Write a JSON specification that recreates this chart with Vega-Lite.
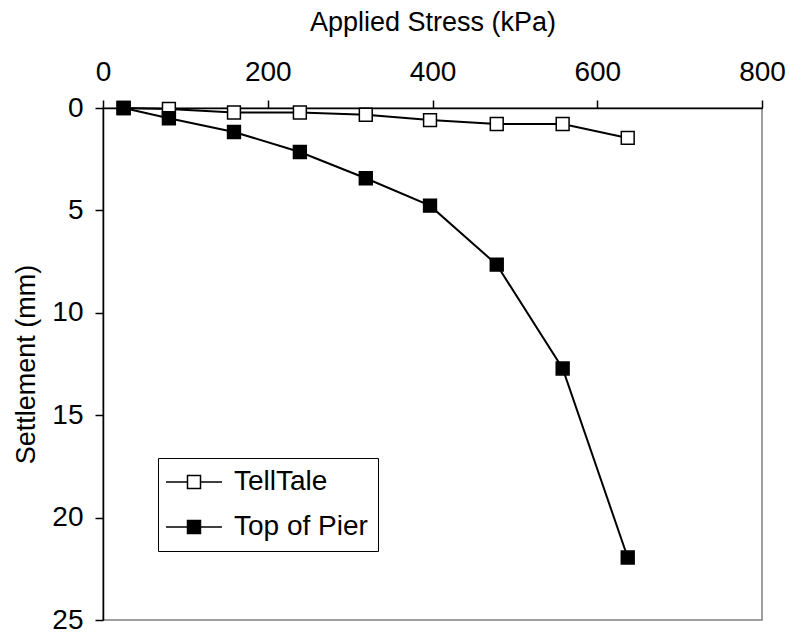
{
  "$schema": "https://vega.github.io/schema/vega-lite/v6.json",
  "width": 659,
  "height": 512,
  "autosize": {"type": "none"},
  "padding": {"left": 103, "top": 108, "right": 27, "bottom": 15},
  "background": "white",
  "config": {
    "font": "Liberation Sans",
    "view": {"stroke": "#808080", "strokeWidth": 1.5},
    "axis": {
      "domainColor": "black",
      "domainWidth": 1.5,
      "tickColor": "black",
      "tickWidth": 1.5,
      "tickSize": 8,
      "grid": false,
      "labelColor": "black",
      "titleColor": "black",
      "labelFontSize": 28,
      "titleFontSize": 27,
      "titleFontWeight": "normal",
      "labelFont": "Liberation Sans",
      "titleFont": "Liberation Sans"
    }
  },
  "data": {
    "values": [
      {"stress": 25, "settlement": 0, "series": "TellTale"},
      {"stress": 80, "settlement": 0.05, "series": "TellTale"},
      {"stress": 159, "settlement": 0.22, "series": "TellTale"},
      {"stress": 239, "settlement": 0.22, "series": "TellTale"},
      {"stress": 319, "settlement": 0.33, "series": "TellTale"},
      {"stress": 397, "settlement": 0.59, "series": "TellTale"},
      {"stress": 478, "settlement": 0.78, "series": "TellTale"},
      {"stress": 558, "settlement": 0.78, "series": "TellTale"},
      {"stress": 637, "settlement": 1.46, "series": "TellTale"},
      {"stress": 25, "settlement": 0, "series": "Top of Pier"},
      {"stress": 80, "settlement": 0.5, "series": "Top of Pier"},
      {"stress": 159, "settlement": 1.17, "series": "Top of Pier"},
      {"stress": 239, "settlement": 2.15, "series": "Top of Pier"},
      {"stress": 319, "settlement": 3.43, "series": "Top of Pier"},
      {"stress": 397, "settlement": 4.77, "series": "Top of Pier"},
      {"stress": 478, "settlement": 7.65, "series": "Top of Pier"},
      {"stress": 558, "settlement": 12.72, "series": "Top of Pier"},
      {"stress": 637, "settlement": 21.95, "series": "Top of Pier"}
    ]
  },
  "encoding": {
    "x": {
      "field": "stress",
      "type": "quantitative",
      "title": "Applied Stress (kPa)",
      "scale": {"domain": [0, 800], "nice": false, "zero": false},
      "axis": {"orient": "top", "values": [0, 200, 400, 600, 800], "labelPadding": 14, "titlePadding": 22, "labelFlush": false}
    },
    "y": {
      "field": "settlement",
      "type": "quantitative",
      "title": "Settlement (mm)",
      "scale": {"domain": [0, 25], "reverse": true, "nice": false, "zero": false},
      "axis": {"values": [0, 5, 10, 15, 20, 25], "labelPadding": 12, "titlePadding": 11, "labelFlush": false}
    }
  },
  "layer": [
    {
      "mark": {"type": "line", "color": "black", "strokeWidth": 2},
      "encoding": {"detail": {"field": "series"}}
    },
    {
      "mark": {"type": "point", "shape": "square", "size": 165, "filled": true, "stroke": "black", "strokeWidth": 1.5, "opacity": 1},
      "encoding": {
        "fill": {
          "field": "series",
          "type": "nominal",
          "scale": {"domain": ["TellTale", "Top of Pier"], "range": ["white", "black"]},
          "legend": {
            "title": null,
            "orient": "none",
            "legendX": 55,
            "legendY": 350,
            "strokeColor": "black",
            "fillColor": "white",
            "padding": 10,
            "rowPadding": 17,
            "labelFontSize": 28,
            "labelColor": "black",
            "labelFont": "Liberation Sans",
            "symbolType": "M-4.3,0H-1M1,0H4.3M-1,-1H1V1H-1Z",
            "symbolSize": 169,
            "symbolStrokeColor": "black",
            "symbolStrokeWidth": 1.5,
            "symbolOffset": 12,
            "labelOffset": 26
          }
        }
      }
    }
  ]
}
